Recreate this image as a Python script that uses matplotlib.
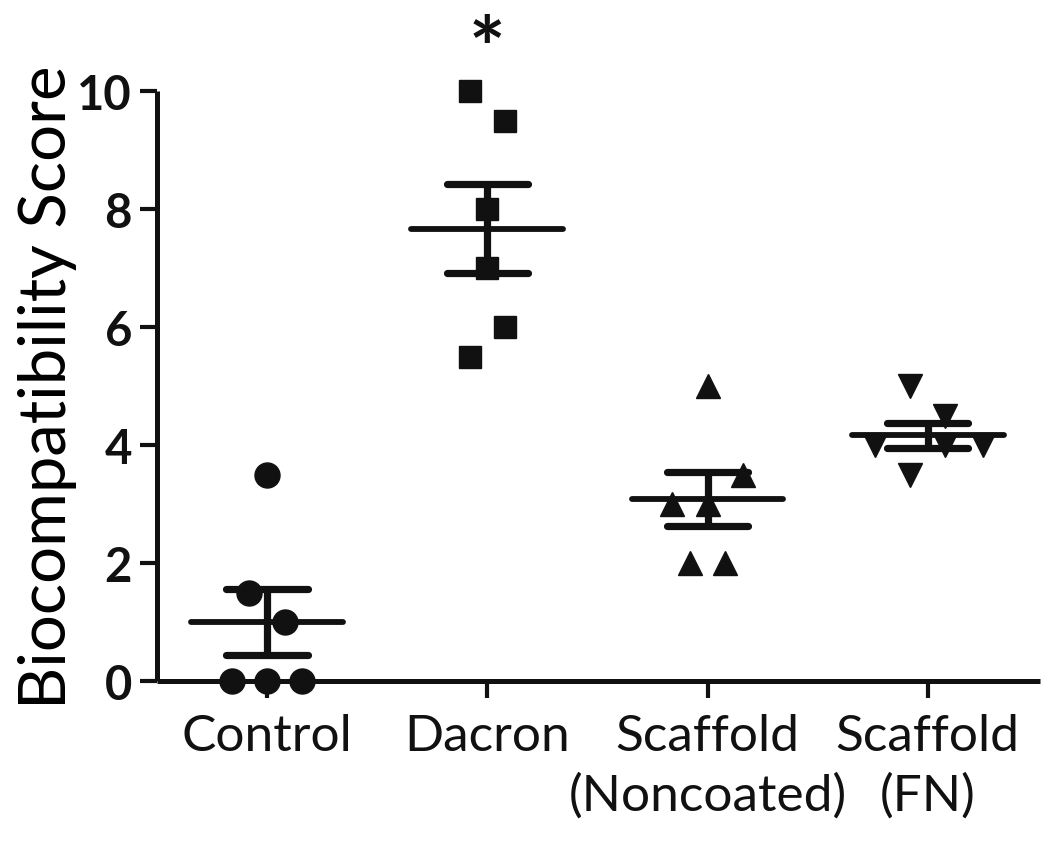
import numpy as np
import matplotlib
matplotlib.use("Agg")
import matplotlib.pyplot as plt

plt.rcParams['font.family'] = ['Lato', 'DejaVu Sans']

# groups and scores
groups = ['Control', 'Dacron', 'Scaffold\n(Noncoated)', 'Scaffold\n(FN)']
control = [3.5, 1.5, 1.0, 0.0, 0.0, 0.0]
dacron = [10.0, 9.5, 8.0, 7.0, 6.0, 5.5]
scaffold_nc = [5.0, 3.5, 3.0, 3.0, 2.0, 2.0]
scaffold_fn = [5.0, 4.5, 4.0, 4.0, 4.0, 3.5]

# horizontal spread of the dots inside each column
spread_control = [0.0, -0.08, 0.08, -0.16, 0.0, 0.16]
spread_dacron = [-0.08, 0.08, 0.0, 0.0, 0.08, -0.08]
spread_nc = [0.0, 0.16, -0.16, 0.0, -0.08, 0.08]
spread_fn = [-0.08, 0.08, -0.24, 0.08, 0.25, -0.08]

data = [control, dacron, scaffold_nc, scaffold_fn]
spreads = [spread_control, spread_dacron, spread_nc, spread_fn]
markers = ['o', 's', '^', 'v']
msizes = [18, 16.5, 17, 17]

ink = '#111111'
lw = 4.2

fig = plt.figure(figsize=(10.5, 8.45), dpi=100)
ax = fig.add_axes([0.1495, 0.1929, 0.8410, 0.6982])

for i, vals in enumerate(data):
    vals = np.array(vals)
    xs = i + np.array(spreads[i])
    ax.plot(xs, vals, linestyle='none', marker=markers[i], ms=msizes[i],
            color=ink, mec=ink, clip_on=False, zorder=3)
    mean = vals.mean()
    sem = vals.std(ddof=1) / np.sqrt(len(vals))
    ax.hlines(mean, i - 0.345, i + 0.345, color=ink, lw=lw, zorder=4,
              capstyle='round')
    ax.hlines([mean - sem, mean + sem], i - 0.185, i + 0.185, color=ink,
              lw=lw + 1, zorder=4, capstyle='round')
    ax.vlines(i, mean - sem, mean + sem, color=ink, lw=lw + 1, zorder=4)

# significance mark above Dacron
ax.text(1, 10.22, '*', ha='center', va='baseline', fontsize=62,
        fontweight='bold', color=ink, clip_on=False)

ax.set_xlim(-0.5, 3.51)
ax.set_ylim(0, 10)
ax.set_yticks([0, 2, 4, 6, 8, 10])
ax.set_xticks(range(len(groups)))
ax.set_xticklabels(groups, fontsize=37, linespacing=1.35)
for lab in ax.get_yticklabels():
    lab.set_fontweight('bold')
    lab.set_fontsize(34)

ax.set_ylabel('Biocompatibility Score', fontsize=47, labelpad=0)

for side in ['top', 'right']:
    ax.spines[side].set_visible(False)
for side in ['left', 'bottom']:
    ax.spines[side].set_linewidth(3.6)
    ax.spines[side].set_color(ink)
    ax.spines[side].set_capstyle('butt')

ax.tick_params(axis='both', length=12, width=3, color=ink, labelcolor=ink)
ax.tick_params(axis='y', pad=6)
ax.tick_params(axis='x', pad=11)

plt.savefig('out.png', dpi=100)
